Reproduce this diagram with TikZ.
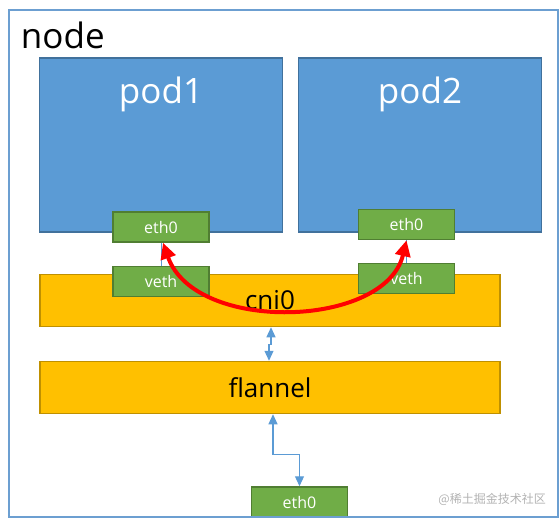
\documentclass[tikz,border=0pt]{standalone}
\usepackage{fontspec}
\setmainfont{Open Sans}
\newfontfamily\cjkfont{Noto Sans CJK SC}
\usepackage{tikz}
\usetikzlibrary{positioning}
\usetikzlibrary{arrows.meta}
\definecolor{podblue}{HTML}{5B9BD5}
\definecolor{podedge}{HTML}{41719C}
\definecolor{bargold}{HTML}{FFC000}
\definecolor{baredge}{HTML}{BF9000}
\definecolor{ifgreen}{HTML}{70AD47}
\definecolor{ifedge}{HTML}{507E32}
\definecolor{frameblue}{HTML}{6C9FD1}
\definecolor{linkblue}{HTML}{5B9BD5}
\tikzset{
    every picture/.style={>={Triangle[length=10pt,width=9pt]},x=1pt,y=-1pt},
}

\begin{document}
\begin{tikzpicture}[
  pod/.style={draw=podedge,fill=podblue,line width=1.5pt,minimum width=243pt,minimum height=174pt},
  podtext/.style={text=white,font=\fontsize{35}{40}\selectfont,inner sep=0pt},
  iface/.style={draw=ifedge,fill=ifgreen,line width=1.5pt,minimum width=96pt,minimum height=30pt,text=white,font=\fontsize{16}{18}\selectfont,inner sep=0pt},
  bar/.style={draw=baredge,fill=bargold,line width=1.5pt,minimum width=460pt,minimum height=52pt,font=\fontsize{26}{30}\selectfont,inner sep=0pt},
  link/.style={draw=linkblue,line width=1.2pt,<->},
  thinlink/.style={draw=linkblue,line width=0.7pt},
  redarrow/.style={draw=red,line width=4pt,{Triangle[length=16pt,width=15pt]}-{Triangle[length=16pt,width=15pt]}},
  ]
\useasboundingbox (0,0) rectangle (560,522);
% pods
\node[pod] (pod1) at (161,145) {};
\node[pod] (pod2) at (420,145) {};
\node[podtext,anchor=base] (pod1lbl) at ([yshift=-46pt]pod1.north) {pod1};
\node[podtext,anchor=base] (pod2lbl) at ([yshift=-46pt]pod2.north) {pod2};
% bridge and flannel
\node[bar] (cni0) at (270,300.5) {cni0};
\node[bar] (flannel) at (270,387.5) {flannel};
% interfaces
\node[iface] (veth1) at (161,281.5) {veth};
\node[iface] (veth2) at (406.5,278.5) {veth};
\node[iface] (eth0a) at (161,227) {eth0};
\node[iface] (eth0b) at (406.5,224.5) {eth0};
\node[iface] (eth0c) at (299.5,502) {eth0};

\draw[thinlink] (veth1) -- (eth0a);
\draw[thinlink] (veth2) -- (eth0b);
\draw[link] ([xshift=1pt]cni0.south) -- ++(0,17) -| ([xshift=-1pt]flannel.north);
\draw[link] ([xshift=3pt]flannel.south) -- ++(0,40) -| (eth0c.north);
\draw[redarrow] ([xshift=2pt]eth0a.south) .. controls +(32,91) and +(-21,88) .. (eth0b.south);

% outer frame
\node[draw=frameblue,line width=2.5pt,minimum width=549pt,minimum height=507pt] (frame) at (283.5,263.5) {};
\node[anchor=base west,font=\fontsize{35}{40}\selectfont,inner sep=0pt] (nodelbl) at ([xshift=13pt,yshift=-40pt]frame.north west) {node};
\node[anchor=base east,text=gray!60,font=\cjkfont\fontsize{12}{14}\selectfont,inner sep=0pt] (mark) at (546,503) {@稀土掘金技术社区};
\end{tikzpicture}
\end{document}
